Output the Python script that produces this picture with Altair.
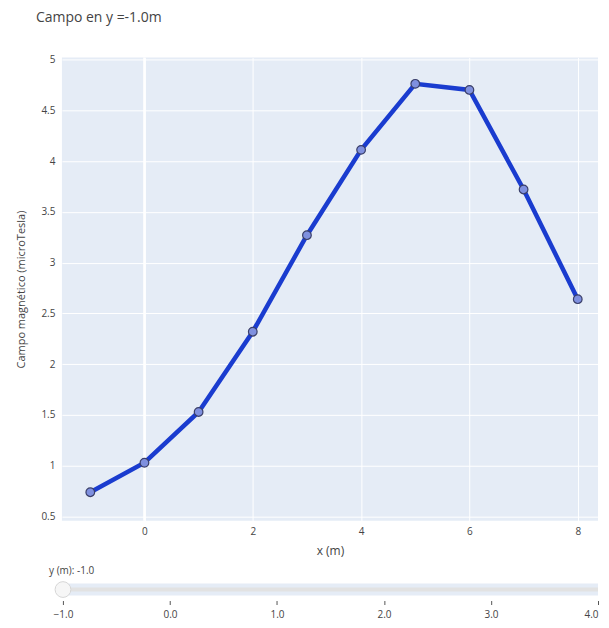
import altair as alt
import pandas as pd

# Data
x_pos = [-1, 0, 1, 2, 3, 4, 5, 6, 7, 8]
campo = [0.74, 1.03, 1.53, 2.32, 3.27, 4.11, 4.76, 4.70, 3.72, 2.64]
slider_values = [-1.0, 0.0, 1.0, 2.0, 3.0, 4.0]
slider_current = -1.0

df = pd.DataFrame({"x": x_pos, "campo": campo})
sdf = pd.DataFrame({"v": slider_values})
cur = pd.DataFrame({"v": [slider_current]})

FONT = "Open Sans"
W = 537

xscale = alt.Scale(domain=[-1.524, 8.374], nice=False, zero=False)
yscale = alt.Scale(domain=[0.46, 5.02], nice=False, zero=False)

base = alt.Chart(df).encode(
    x=alt.X("x:Q", scale=xscale,
            axis=alt.Axis(title="x (m)", values=[0, 2, 4, 6, 8], format="~g",
                          grid=True, gridColor="white", gridWidth=1, ticks=False,
                          domain=False, labelColor="#444", labelFontSize=10,
                          labelPadding=6, titleColor="#444", titleFontSize=12,
                          titleFontWeight="normal", titlePadding=8.5)),
    y=alt.Y("campo:Q", scale=yscale,
            axis=alt.Axis(title="Campo magnético (microTesla)",
                          values=[0.5, 1, 1.5, 2, 2.5, 3, 3.5, 4, 4.5, 5],
                          format="~g",
                          grid=True, gridColor="white", gridWidth=1, ticks=False,
                          domain=False, labelColor="#444", labelFontSize=10,
                          labelPadding=7, titleColor="#444", titleFontSize=11,
                          titleFontWeight="normal", titlePadding=14)),
)

zero_line = alt.Chart(pd.DataFrame({"z": [0]})).mark_rule(
    color="white", strokeWidth=2.5).encode(x=alt.X("z:Q", scale=xscale))

line = base.mark_line(color="#1a3ccf", strokeWidth=4.5)
pts = base.mark_point(filled=True, size=75, fill="#7f90df", stroke="#3a3f6a",
                      strokeWidth=1.2, opacity=1)

main = alt.layer(zero_line, line, pts).properties(width=W, height=464)

# Slider widget
sx = alt.Scale(domain=[-1.01, 4.0], nice=False, zero=False)
track = alt.Chart(pd.DataFrame({"a": [-1.01], "b": [4.0]})).mark_rule(
    color="#e2e2e2", strokeWidth=4, strokeCap="butt").encode(
    x=alt.X("a:Q", scale=sx), x2="b:Q", y=alt.value(6))
ticks = alt.Chart(sdf).mark_point(opacity=0).encode(
    x=alt.X("v:Q", scale=sx,
            axis=alt.Axis(title=None, values=slider_values, format=".1f",
                          domain=False, ticks=True, tickColor="#555", tickSize=4,
                          tickWidth=1, grid=False, labelColor="#444",
                          labelAlign=alt.condition("datum.value == 4",
                                                   alt.value("right"),
                                                   alt.value("center")),
                          labelFontSize=10, labelPadding=5, offset=5)),
    y=alt.value(6))
handle = alt.Chart(cur).mark_point(filled=True, size=250, fill="#f6f6f6",
                                   stroke="#d6d6d6", strokeWidth=1, opacity=1).encode(
    x=alt.X("v:Q", scale=sx), y=alt.value(6))

slider = alt.layer(track, ticks, handle).properties(
    width=W, height=12,
    title=alt.TitleParams("y (m): -1.0", anchor="start", fontSize=10,
                          fontWeight="normal", color="#444", font=FONT, offset=4,
                          dx=-4)
)

chart = alt.vconcat(main, slider, spacing=9).resolve_scale(
    x="independent"
).properties(
    padding={"left": 7, "top": 2, "right": 0, "bottom": 0},
    title=alt.TitleParams("Campo en y =-1.0m", anchor="start", fontSize=14,
                          fontWeight="normal", color="#444", font=FONT,
                          offset=30, dx=20),
).configure(font=FONT, background="white").configure_view(
    fill="#E5ECF6", stroke=None
).configure_axis(labelFont=FONT, titleFont=FONT)

chart.save("out.html", embed_options={"renderer": "svg", "actions": False})
